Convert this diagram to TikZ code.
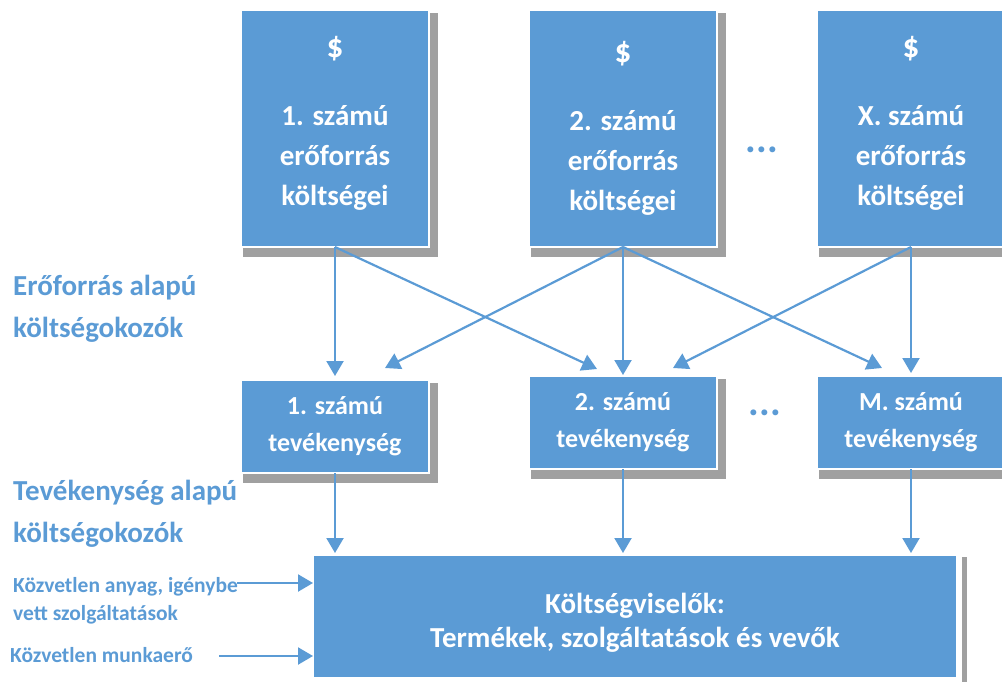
\documentclass[tikz,border=0pt]{standalone}
\usepackage{fontspec}
\setmainfont{Carlito}
\usetikzlibrary{arrows.meta,calc}
\definecolor{boxblue}{HTML}{5B9BD5}
\definecolor{shadowgray}{HTML}{A0A0A0}
\pgfdeclarelayer{bg}
\pgfsetlayers{bg,main}
\newcommand{\lowpad}[1]{\rule[-#1]{0pt}{0pt}}
\newcommand{\toppad}[1]{\rule{0pt}{#1}}
\newcommand{\bigdollar}{{\fontsize{33}{40}\selectfont\$}}
\begin{document}
\begin{tikzpicture}[x=1pt,y=-1pt,
  box/.style={fill=boxblue, draw=white, line width=1.5pt, text=white, align=center, inner sep=0pt, outer sep=0pt},
  costbox/.style={box, minimum width=188pt, minimum height=237pt, font=\bfseries\fontsize{29}{40}\selectfont},
  actbox/.style={box, minimum width=188pt, minimum height=93pt, font=\bfseries\fontsize{26}{37}\selectfont},
  carrier/.style={box, minimum width=644pt, minimum height=123pt, font=\bfseries\fontsize{29}{34}\selectfont},
  lbl/.style={text=boxblue, align=left, inner sep=0pt, font=\bfseries\fontsize{29}{42}\selectfont},
  slbl/.style={text=boxblue, align=left, inner sep=0pt, font=\bfseries\fontsize{21.5}{28}\selectfont},
  dots/.style={text=boxblue, inner sep=0pt, font=\bfseries\fontsize{40}{40}\selectfont},
  conn/.style={draw=boxblue, line width=2.2pt, -{Triangle[length=15pt,width=17pt]}},
]
\useasboundingbox (0,0) rectangle (1002,682);

% top row: resource costs
\node[costbox] (t1) at (335,128.5) {\bigdollar\\[28pt]1. számú\\erőforrás\\költségei\lowpad{16pt}};
\node[costbox] (t2) at (623,128.5) {\bigdollar\\[28pt]2. számú\\erőforrás\\költségei};
\node[costbox] (t3) at (911,128.5) {\bigdollar\\[28pt]X. számú\\erőforrás\\költségei\lowpad{16pt}};
\node[dots] (d1) at (762,150) {...};

% middle row: activities
\node[actbox] (a1) at (335,426.5) {1. számú\\tevékenység};
\node[actbox] (a2) at (623,422.5) {2. számú\\tevékenység};
\node[actbox] (a3) at (911,422.5) {M. számú\\tevékenység};
\node[dots] (d2) at (765,413) {...};

% bottom: cost objects
\node[carrier] (cb) at (635,616.5) {\toppad{32pt}Költségviselők:\\Termékek, szolgáltatások és vevők};

% left labels
\node[lbl, anchor=west] (l1) at (13,309) {Erőforrás alapú\\költségokozók};
\node[lbl, anchor=west] (l2) at (13,514) {Tevékenység alapú\\költségokozók};
\node[slbl, anchor=west] (l3) at (13,601) {Közvetlen anyag, igénybe\\vett szolgáltatások};
\node[slbl, anchor=west] (l4) at (10,655) {Közvetlen munkaerő};

% shadows
\begin{pgfonlayer}{bg}
\foreach \n in {t1,t2,t3,a1,a2,a3}{
  \fill[shadowgray] ([shift={(2,3)}]\n.north west) rectangle ([shift={(9,10)}]\n.south east);
}
\fill[shadowgray] ([shift={(5,2)}]cb.north east) rectangle ([shift={(10,10)}]cb.south east);
\end{pgfonlayer}

% resource drivers
\draw[conn, shorten >=4pt] (t1.south) -- (a1.north);
\draw[conn] (t1.south) -- ([shift={(-26,-7)}]a2.north);
\draw[conn] (t2.south) -- ([shift={(50,-12)}]a1.north);
\draw[conn, shorten >=1pt] (t2.south) -- (a2.north);
\draw[conn] (t2.south) -- ([shift={(-29,-8)}]a3.north);
\draw[conn] (t3.south) -- ([shift={(50,-8)}]a2.north);
\draw[conn, shorten >=3pt] (t3.south) -- (a3.north);

% activity drivers
\draw[conn, shorten >=2pt] (a1.south) -- (a1.south |- cb.north);
\draw[conn, shorten >=2pt] (a2.south) -- (a2.south |- cb.north);
\draw[conn, shorten >=2pt] (a3.south) -- (a3.south |- cb.north);

% direct costs
\coordinate (s1) at (237,583);
\coordinate (s2) at (219,656);
\draw[conn] (s1) -- (s1 -| cb.west);
\draw[conn] (s2) -- (s2 -| cb.west);
\end{tikzpicture}
\end{document}
